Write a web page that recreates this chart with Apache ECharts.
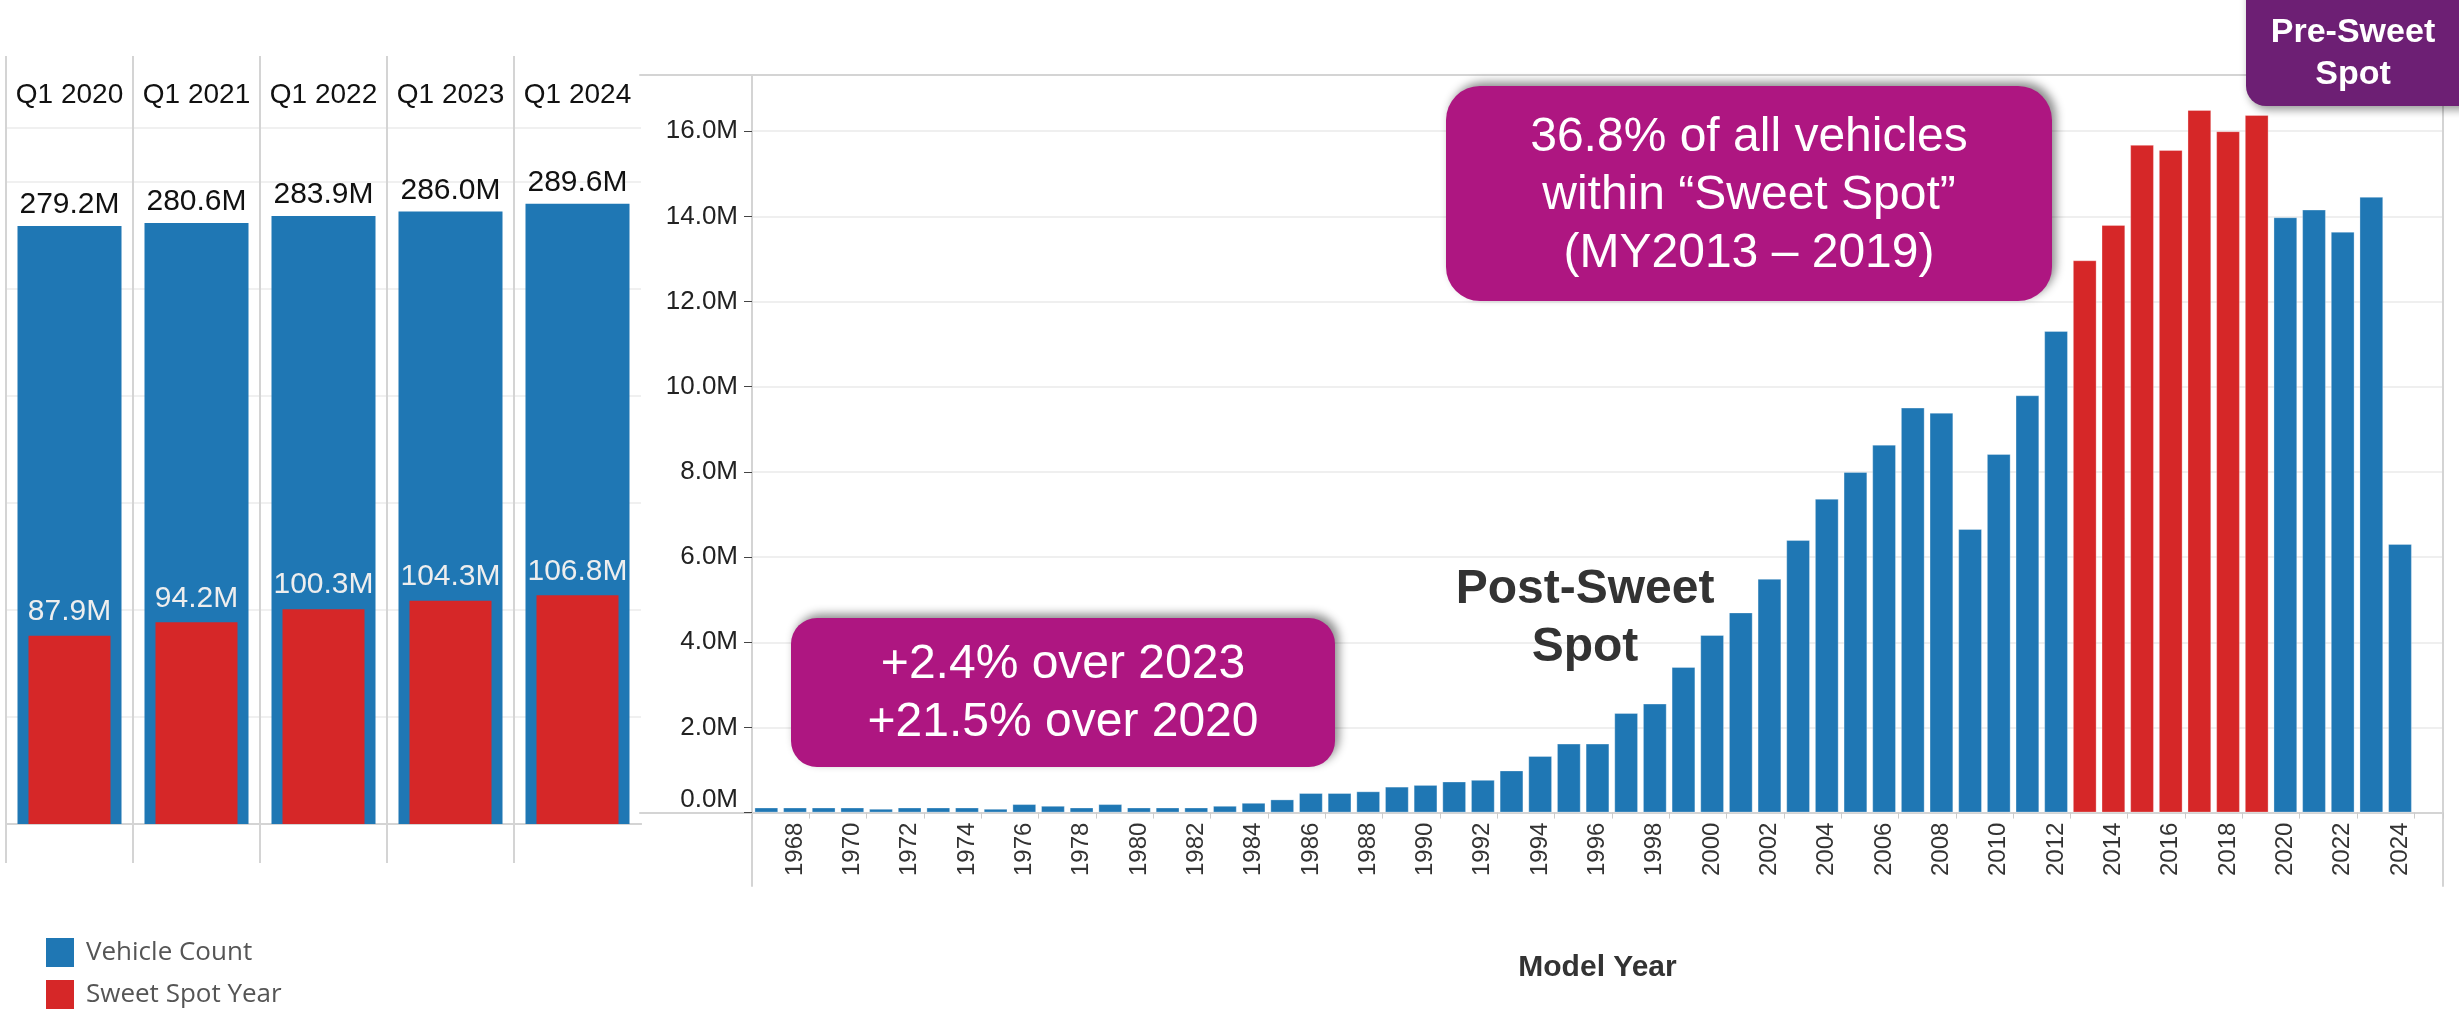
<!DOCTYPE html>
<html>
<head>
<meta charset="utf-8">
<title>Vehicles in operation by model year</title>
<script src="https://cdn.jsdelivr.net/npm/echarts@6/dist/echarts.min.js"></script>
<style>
  html, body { margin: 0; padding: 0; background: #fff; }
  #chart { width: 2459px; height: 1013px; }
</style>
</head>
<body>
<div id="chart"></div>
<script>
// left panel: Q1 snapshots, vehicle count and sweet spot count (millions)
const quarters = ['Q1 2020', 'Q1 2021', 'Q1 2022', 'Q1 2023', 'Q1 2024']
const totalVehicles = [279.2, 280.6, 283.9, 286.0, 289.6]
const sweetSpotVehicles = [87.9, 94.2, 100.3, 104.3, 106.8]

// right panel: vehicle count by model year (millions), last slot is empty
const modelYears = [
  '1967', '1968', '1969', '1970', '1971', '1972', '1973', '1974', '1975', '1976',
  '1977', '1978', '1979', '1980', '1981', '1982', '1983', '1984', '1985', '1986',
  '1987', '1988', '1989', '1990', '1991', '1992', '1993', '1994', '1995', '1996',
  '1997', '1998', '1999', '2000', '2001', '2002', '2003', '2004', '2005', '2006',
  '2007', '2008', '2009', '2010', '2011', '2012', '2013', '2014', '2015', '2016',
  '2017', '2018', '2019', '2020', '2021', '2022', '2023', '2024', '2025'
]
const yearCounts = [
  0.12, 0.12, 0.12, 0.12, 0.09, 0.12, 0.12, 0.12, 0.09, 0.20,
  0.16, 0.12, 0.20, 0.12, 0.12, 0.12, 0.16, 0.23, 0.31, 0.46,
  0.46, 0.50, 0.61, 0.65, 0.73, 0.77, 0.99, 1.33, 1.62, 1.62,
  2.34, 2.56, 3.42, 4.17, 4.70, 5.49, 6.40, 7.37, 8.00, 8.64,
  9.51, 9.39, 6.66, 8.42, 9.80, 11.31, 12.97, 13.80, 15.68, 15.56,
  16.50, 16.00, 16.38, 13.98, 14.16, 13.64, 14.46, 6.31, null
]
const sweetSpotYears = ['2013', '2014', '2015', '2016', '2017', '2018', '2019']

const blue = '#1f77b4'
const red = '#d62728'
const frameColor = '#d4d4d4'
const font = 'Liberation Sans, Arial, sans-serif'

let otherYears = yearCounts.map((v, i) => sweetSpotYears.includes(modelYears[i]) ? null : v)
let inSweetSpot = yearCounts.map((v, i) => sweetSpotYears.includes(modelYears[i]) ? v : null)

let fmtM = v => v.toFixed(1) + 'M'
let hidden = { axisLine: { show: false }, axisTick: { show: false }, axisLabel: { show: false }, splitLine: { show: false } }

let chart = echarts.init(document.getElementById('chart'))

let option = {
  animation: false,
  backgroundColor: '#fff',
  textStyle: { fontFamily: font },
  legend: {
    data: ['Vehicle Count', 'Sweet Spot Year'],
    orient: 'vertical',
    left: 46,
    top: 938,
    padding: 0,
    icon: 'rect',
    itemWidth: 28,
    itemHeight: 29,
    itemGap: 13,
    textStyle: { fontSize: 26, color: '#555', fontFamily: 'Open Sans', padding: [0, 0, 0, 7] }
  },
  grid: [
    { left: 6, right: 1818, top: 128, bottom: 189 }, // left bars
    { left: 6, right: 1818, top: 56, bottom: 150 }, // left column lines
    { left: 752, right: 16, top: 75, bottom: 200.4 }, // model year bars
    { left: 640, right: 16, top: 75, bottom: 127 } // right frame
  ],
  xAxis: [
    {
      type: 'category', gridIndex: 0, position: 'top', data: quarters,
      axisLine: { lineStyle: { color: frameColor, width: 2 } },
      axisTick: { show: false },
      axisLabel: { interval: 0, fontSize: 28, color: '#111', margin: 19 }
    },
    {
      type: 'category', gridIndex: 0, position: 'bottom', data: quarters,
      axisLine: { lineStyle: { color: frameColor, width: 2 } },
      axisTick: { show: false },
      axisLabel: { show: false }
    },
    {
      type: 'category', gridIndex: 1, data: quarters,
      axisLine: { show: false }, axisTick: { show: false }, axisLabel: { show: false },
      splitLine: { show: true, interval: 0, showMaxLine: false, lineStyle: { color: frameColor, width: 2 } }
    },
    {
      type: 'category', gridIndex: 2, data: modelYears,
      name: 'Model Year', nameLocation: 'middle', nameGap: 140,
      nameTextStyle: { fontSize: 30, fontWeight: 'bold', color: '#333' },
      axisLine: { show: false },
      axisTick: {
        show: true, length: 6, alignWithLabel: false,
        interval: idx => idx % 2 === 0,
        lineStyle: { color: '#ccc' }
      },
      axisLabel: {
        rotate: 90, fontSize: 24, color: '#333', margin: 10,
        interval: idx => idx % 2 === 1
      }
    },
    {
      type: 'value', gridIndex: 3, position: 'top', min: 0, max: 1, ...hidden,
      axisLine: { show: true, onZero: false, lineStyle: { color: frameColor, width: 2 } }
    },
    {
      type: 'value', gridIndex: 3, position: 'bottom', offset: -73.4, min: 0, max: 1, ...hidden,
      axisLine: { show: true, onZero: false, lineStyle: { color: frameColor, width: 2 } }
    }
  ],
  yAxis: [
    {
      type: 'value', gridIndex: 0, min: 0, max: 325, interval: 50,
      axisLine: { show: false }, axisTick: { show: false }, axisLabel: { show: false },
      splitLine: { lineStyle: { color: '#f0f0f0', width: 2 } }
    },
    { type: 'value', gridIndex: 1, show: false },
    {
      type: 'value', gridIndex: 2, min: 0, max: 17.32, interval: 2,
      axisLine: { show: false },
      axisTick: { show: true, length: 8, lineStyle: { color: '#444' } },
      axisLabel: {
        fontSize: 26, color: '#222', margin: 14,
        showMaxLabel: false, verticalAlignMinLabel: 'bottom',
        formatter: fmtM
      },
      splitLine: { lineStyle: { color: '#efefef', width: 2 } }
    },
    {
      type: 'value', gridIndex: 3, position: 'left', offset: -112, ...hidden,
      axisLine: { show: true, onZero: false, lineStyle: { color: frameColor, width: 2 } }
    },
    {
      type: 'value', gridIndex: 3, position: 'right', ...hidden,
      axisLine: { show: true, onZero: false, lineStyle: { color: frameColor, width: 2 } }
    }
  ],
  series: [
    {
      name: 'Vehicle Count', type: 'bar', xAxisIndex: 0, yAxisIndex: 0,
      data: totalVehicles, barWidth: 104,
      itemStyle: { color: blue },
      label: { show: true, position: 'top', distance: 6, fontSize: 30, color: '#111', formatter: p => fmtM(p.value) }
    },
    {
      // own axis so the narrower bar is centred inside the wide one
      name: 'Sweet Spot Year', type: 'bar', xAxisIndex: 1, yAxisIndex: 0,
      data: sweetSpotVehicles, barWidth: 82,
      itemStyle: { color: red },
      label: { show: true, position: 'top', distance: 9, fontSize: 30, color: '#eeeeee', formatter: p => fmtM(p.value) }
    },
    {
      name: 'Vehicle Count', type: 'bar', xAxisIndex: 3, yAxisIndex: 2,
      data: otherYears, barWidth: '83%', barGap: '-100%',
      itemStyle: { color: blue, borderColor: 'rgba(255,255,255,0.3)', borderWidth: 1 }
    },
    {
      name: 'Sweet Spot Year', type: 'bar', xAxisIndex: 3, yAxisIndex: 2,
      data: inSweetSpot, barWidth: '83%', barGap: '-100%',
      itemStyle: { color: red, borderColor: 'rgba(255,255,255,0.3)', borderWidth: 1 }
    }
  ],
  graphic: [
    {
      type: 'rect', z: 100,
      shape: { x: 791, y: 618, width: 544, height: 149, r: 26 },
      style: { fill: '#ae1681', shadowBlur: 10, shadowOffsetX: 4, shadowOffsetY: -4, shadowColor: 'rgba(0,0,0,0.45)' }
    },
    {
      type: 'text', z: 101, x: 1063, y: 694,
      style: {
        text: '+2.4% over 2023\n+21.5% over 2020',
        fontSize: 48, fontFamily: font, fill: '#fff', lineHeight: 58,
        align: 'center', verticalAlign: 'middle'
      }
    },
    {
      type: 'rect', z: 100,
      shape: { x: 1446, y: 86, width: 606, height: 215, r: 34 },
      style: { fill: '#ae1681', shadowBlur: 10, shadowOffsetX: 4, shadowOffsetY: -4, shadowColor: 'rgba(0,0,0,0.45)' }
    },
    {
      type: 'text', z: 101, x: 1749, y: 196,
      style: {
        text: '36.8% of all vehicles\nwithin “Sweet Spot”\n(MY2013 – 2019)',
        fontSize: 48, fontFamily: font, fill: '#fff', lineHeight: 58,
        align: 'center', verticalAlign: 'middle'
      }
    },
    {
      type: 'rect', z: 100,
      shape: { x: 2246, y: -30, width: 240, height: 136, r: 20 },
      style: { fill: '#6d1f74', shadowBlur: 8, shadowOffsetX: 3, shadowOffsetY: 4, shadowColor: 'rgba(0,0,0,0.4)' }
    },
    {
      type: 'text', z: 101, x: 2353, y: 54,
      style: {
        text: 'Pre-Sweet\nSpot',
        fontSize: 34, fontWeight: 'bold', fontFamily: font, fill: '#fff', lineHeight: 42,
        align: 'center', verticalAlign: 'middle'
      }
    },
    {
      type: 'text', z: 101, x: 1585, y: 619,
      style: {
        text: 'Post-Sweet\nSpot',
        fontSize: 48, fontWeight: 'bold', fontFamily: font, fill: '#333', lineHeight: 58,
        align: 'center', verticalAlign: 'middle'
      }
    }
  ]
}

chart.setOption(option)
window.addEventListener('resize', () => chart.resize())
</script>
</body>
</html>
